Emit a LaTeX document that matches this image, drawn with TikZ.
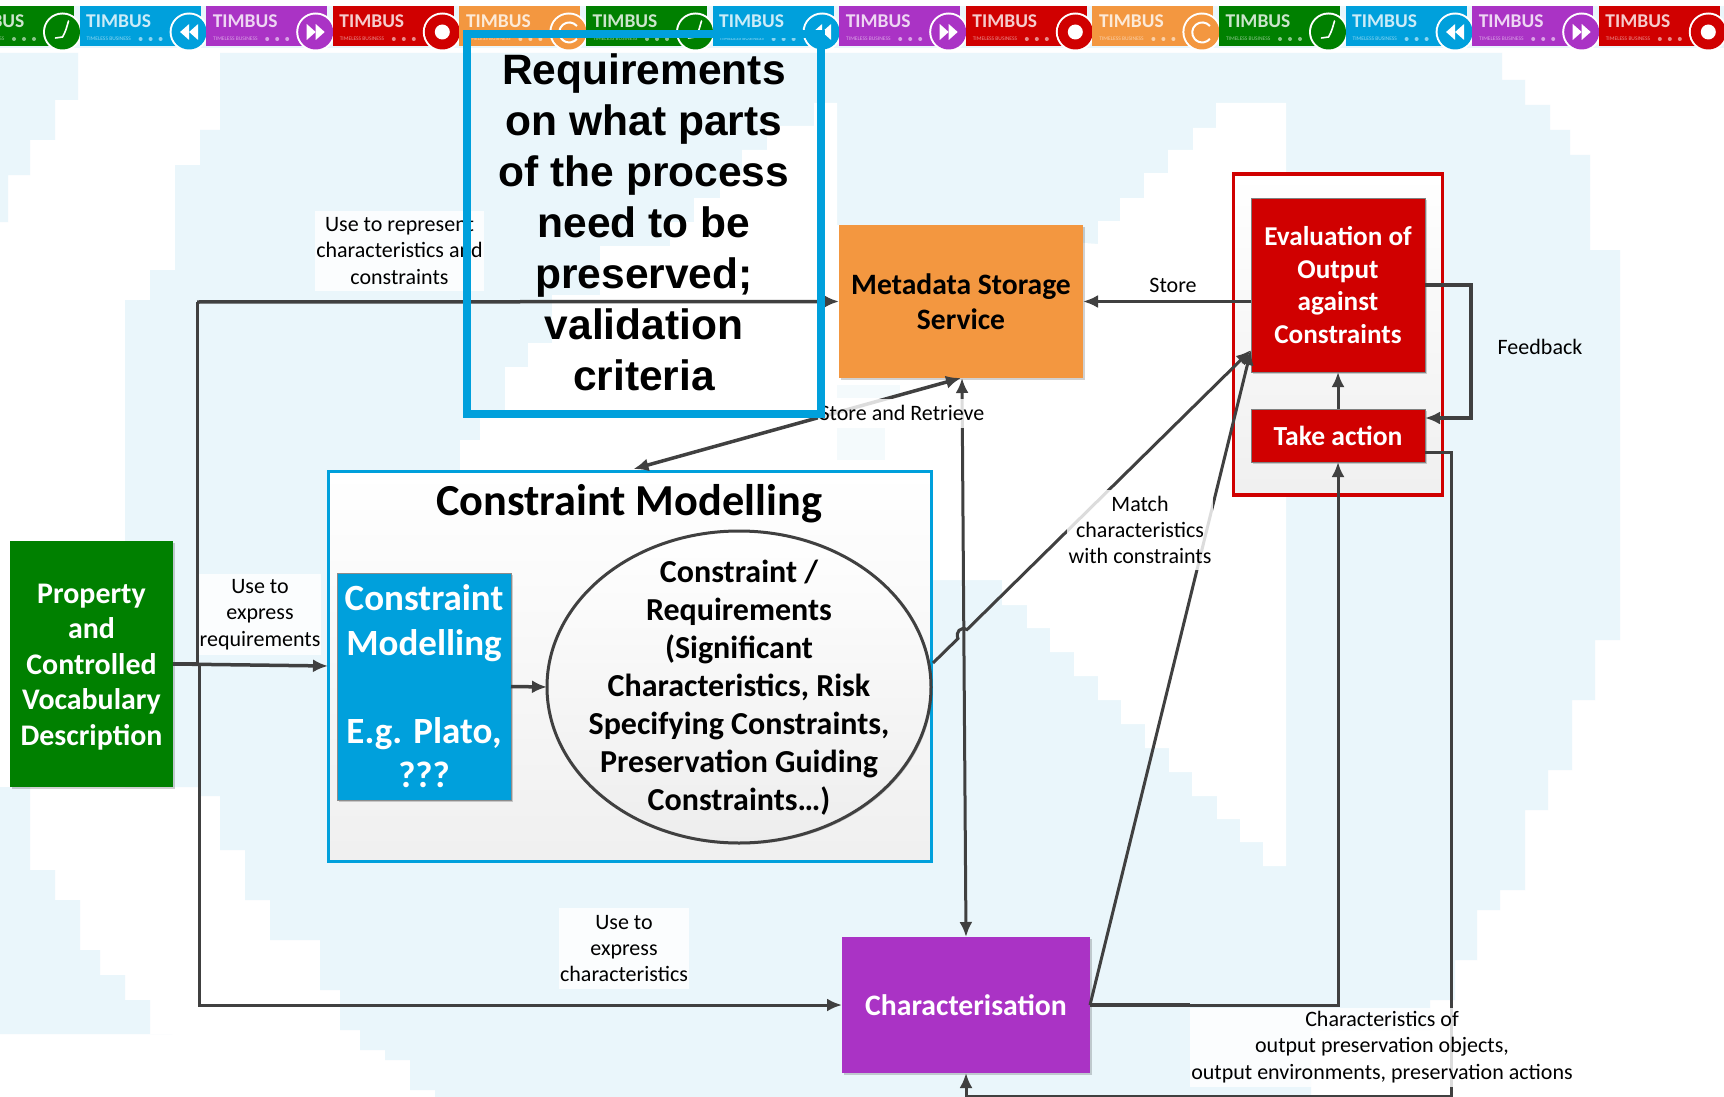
\documentclass[tikz,border=0pt]{standalone}
\usepackage{fontspec}
\setmainfont{Carlito}
\newfontfamily\reqfont{Liberation Sans}
\usetikzlibrary{arrows.meta,calc,shadows,shapes.geometric}
\definecolor{bgblue}{HTML}{EAF6FB}
\definecolor{tgreen}{HTML}{008000}
\definecolor{tblue}{HTML}{00A0DC}
\definecolor{tpurple}{HTML}{AA33C5}
\definecolor{tred}{HTML}{D00000}
\definecolor{torange}{HTML}{F39740}
\definecolor{linegray}{HTML}{404040}
\newcommand{\fsz}[2]{\fontsize{#1}{#2}\selectfont}
\newcommand{\iconclock}{\draw[white,line width=1.6pt,line cap=round] (101,38) -- (108,37) .. controls (111,32) and (112,28) .. (114,21);}
\newcommand{\iconback}{\fill[white] (99,32) -- (108,24) -- (108,40) -- cycle; \fill[white] (108,32) -- (117,24) -- (117,40) -- cycle;}
\newcommand{\iconfwd}{\fill[white] (117,32) -- (108,24) -- (108,40) -- cycle; \fill[white] (108,32) -- (99,24) -- (99,40) -- cycle;}
\newcommand{\iconrec}{\fill[white] (108,32) circle[radius=7.5];}
\newcommand{\iconredo}{\draw[white,line width=2pt] (116,26) arc[start angle=-40,end angle=-320,radius=10];}
\tikzset{
  every node/.style={inner sep=0pt,outer sep=0pt},
  softshadow/.style={drop shadow={shadow xshift=1.5pt,shadow yshift=-1.5pt,opacity=.18,fill=black}},
  boxnode/.style={rectangle,softshadow,align=center,font=\bfseries},
  wline/.style={linegray,line width=3pt},
  fline/.style={wline,-{Latex[length=15pt,width=13pt]}},
  dline/.style={wline,{Latex[length=15pt,width=13pt]}-{Latex[length=15pt,width=13pt]}},
  labelbox/.style={rectangle,fill=white,fill opacity=.82,text opacity=1,align=center,text=black,font=\fsz{22}{26.4}},
  plainlabel/.style={align=center,text=black,font=\fsz{22}{26.4}},
}
\begin{document}
\begin{tikzpicture}[x=1pt,y=-1pt]
\useasboundingbox (0,0) rectangle (1724,1097);
\begin{scope}
\clip (0,0) rectangle (1724,1097);
% background
\fill[white] (0,0) rectangle (1724,1097);
\fill[bgblue] (0,6) rectangle (1724,48);
\fill[bgblue] (0,53) -- (78,53) |- (55,100) |- (30,140) |- (8,175) |- (0,222) -- cycle;
\fill[bgblue] (0,787) -- (30,787) |- (55,870) |- (80,900) |- (100,950) |- (125,975) |- (150,1000) |- (172,1034) -- (0,1034) -- cycle;
\fill[bgblue] (220,53) -- (1502,53) |- (1525,80) |- (1550,105) |- (1570,130) |- (1590,155) |- (1620,250)
  -- (1620,640) -| (1595,700) -| (1572,770) -| (1548,810) -| (1525,890) -| (1500,910) -| (1477,960) -| (1455,1000) -| (1430,1030) -| (1311,1060) -- (1311,1097)
  -- (435,1097) |- (410,1090) |- (385,1060) |- (360,1050) |- (340,1030) |- (320,990) |- (270,940) |- (245,900) |- (220,850) |- (198,796)
  |- (173,787) -- (125,787) -- (125,300) -| (150,270) -| (175,165) -| (200,130) -| (220,80) -- cycle;
\fill[white] (837,103) -- (837,225) -- (1098,244) |- (1120,221) |- (1144,198) |- (1168,173) |- (1193,150) |- (1216,128) |- (1237,103) -- (1286,103)
  -- (1286,866) -- (1263,866) |- (1240,842) |- (1217,819) |- (1192,796) |- (1169,772) |- (1145,748) |- (1121,724) |- (1098,700) |- (1074,676) |- (1050,652) |- (1027,628) |- (1002,605) |- (960,580) -- (460,580)
  -- (460,471) |- (480,440) |- (505,416) |- (505,391) |- (528,367) |- (552,343) |- (600,295) |- (670,246) |- (694,222) |- (720,198) |- (742,174) |- (767,150) |- (814,126) |- (837,103) -- cycle;
\fill[bgblue,opacity=.5] (837,385) rectangle (900,398);
\fill[bgblue,opacity=.5] (837,428) rectangle (885,460);
% banner
\foreach \k/\c/\ic in {0/tgreen/iconclock,1/tblue/iconback,2/tpurple/iconfwd,3/tred/iconrec,4/torange/iconredo,5/tgreen/iconclock,6/tblue/iconback,7/tpurple/iconfwd,8/tred/iconrec,9/torange/iconredo,10/tgreen/iconclock,11/tblue/iconback,12/tpurple/iconfwd,13/tred/iconrec}{
  \pgfmathsetmacro{\xk}{-47+126.6*\k}
  \begin{scope}[shift={(\xk,0)}]
    \fill[\c] (0,6) rectangle (121,46);
    \begin{scope}[shift={(1.5,0)}]
    \fill[white] (108,32) circle[radius=19.5];
    \fill[\c] (108,32) circle[radius=17.5];
    \csname\ic\endcsname
    \end{scope}
    \node[text=white,opacity=.8,font=\bfseries\fsz{19.5}{20}] (tile\k) at (39,21) {TIMBUS};
    \node[text=white,opacity=.55,font=\fsz{5.5}{6},anchor=west] (tilesub\k) at (7,39) {TIMELESS BUSINESS};
    \foreach \d in {61,71,81}{\fill[white,opacity=.55] (\d,39) circle[radius=2];}
  \end{scope}
}
\end{scope}

% nodes
\node[rectangle,draw=tblue,line width=3pt,top color=white,bottom color=black!6,minimum width=603pt,minimum height=390pt,softshadow] (cm) at (629.5,666) {};
\node[font=\bfseries\fsz{44.3}{46},text=black] (cmtitle) at (629,504) {Constraint Modelling};
\node[boxnode,fill=tblue,draw=black!45,line width=.7pt,text=white,minimum width=174pt,minimum height=227pt,font=\bfseries\fsz{37}{44.3}] (inner) at (424,686.5) {Constraint\\Modelling\\[44.3pt]E.g. Plato,\\???};
\node[ellipse,draw=linegray,line width=3pt,top color=white,bottom color=black!7,minimum width=384pt,minimum height=312pt,softshadow] (req) at (739,687) {};
\node[align=center,text=black,font=\bfseries\fsz{32}{38}] (reqtext) at (739,688) {Constraint /\\Requirements\\(Significant\\Characteristics, Risk\\Specifying Constraints,\\Preservation Guiding\\Constraints…)};
\node[boxnode,fill=tgreen,minimum width=163pt,minimum height=246pt] (prop) at (91.5,664) {};
\node[align=center,text=white,font=\bfseries\fsz{29.9}{35.4}] (proptext) at (91.5,667) {Property\\and\\Controlled\\Vocabulary\\Description};
\node[boxnode,fill=torange,text=black,minimum width=244pt,minimum height=153pt,font=\bfseries\fsz{29.6}{35}] (meta) at (961,301.5) {Metadata Storage\\Service};
\node[boxnode,fill=tpurple,text=white,minimum width=248pt,minimum height=136pt,font=\bfseries\fsz{29.7}{35}] (chara) at (966,1005) {Characterisation};
\node[rectangle,draw=tred,line width=3.5pt,top color=white,bottom color=black!6,minimum width=209pt,minimum height=321pt,softshadow] (redframe) at (1338,334.5) {};
\node[boxnode,fill=tred,draw=black!50,line width=.7pt,text=white,minimum width=174pt,minimum height=174pt,font=\bfseries\fsz{27.2}{32.5}] (eval) at (1338,285) {Evaluation of\\Output\\against\\Constraints};
\node[boxnode,fill=tred,draw=black!50,line width=.7pt,text=white,minimum width=174pt,minimum height=53pt,font=\bfseries\fsz{27.6}{32.5}] (take) at (1338,435.5) {Take action};

% connectors
\coordinate (cornerA) at (197,302);
\coordinate (cornerB) at (199,1005);
\coordinate (matchstart) at (933,663);
\coordinate (matchend) at ($(eval.south west)+(0,-22)$);
\coordinate (fbin) at ($(take.east)+(0,-17.5)$);
\coordinate (outstart) at ($(take.east)+(0,16.5)$);
\coordinate (fbx) at (1471,0);
\coordinate (outx) at (1451,1096);

\draw[wline,line width=4.5pt] (prop.east) -- (199,664);
\draw[fline,line width=3.5pt] (prop.east) -- (cm.west);
\draw[wline] (197,664) -- (cornerA);
\draw[fline,line width=3.5pt] (cornerA) -- (meta.west);
\draw[fline] (199,664) -- (cornerB) -- (chara.west);
\draw[fline,line width=3.5pt] (inner.east) -- (req.west);
\draw[fline,line width=3.5pt] (eval.west |- meta.east) -- (meta.east);
\draw[dline,line width=3.5pt] ($(cm.north)+(4,-2)$) -- (meta.south);
\draw[dline] ($(meta.south)+(1,0)$) -- (chara.north);
\draw[fline] (matchstart) -- (958,638.5) .. controls (955,632) and (961,626) .. (967,629.6) -- (matchend);
\draw[fline] (chara.east) -- (matchend);
\draw[wline,line width=4pt] (chara.east) -- (1190,1005);
\draw[fline] (chara.east) -| (take.south);
\draw[fline] (take.north) -- (eval.south);
\draw[fline,line width=3.5pt] (eval.east) -| (fbx |- fbin) -- (fbin);
\draw[fline] (outstart) -| (outx) -| (chara.south);

% labels
\node[labelbox,minimum width=169pt,minimum height=80pt] (lab1) at (399.5,251) {Use to represent\\characteristics and\\constraints};
\node[labelbox,minimum width=122pt,minimum height=81pt] (lab2) at (260,614.5) {Use to\\express\\requirements};
\node[labelbox,minimum width=130pt,minimum height=81pt] (lab3) at (624,948.5) {Use to\\express\\characteristics};
\node[labelbox,minimum width=146pt,minimum height=80pt] (lab4) at (1140,530) {Match\\characteristics\\with constraints};
\node[labelbox,minimum width=384pt,minimum height=79pt] (lab5) at (1382,1047) {Characteristics of\\output preservation objects,\\output environments, preservation actions};
\node[labelbox,minimum width=168pt,minimum height=29pt] (lab6) at (902,413) {Store and Retrieve};
\node[plainlabel] (lab7) at (1173,285) {Store};
\node[plainlabel] (lab8) at (1540,347) {Feedback};

% callout
\node[rectangle,draw=tblue,line width=8pt,minimum width=354pt,minimum height=380pt] (callout) at (644,224) {};
\node[align=center,text=black,font=\reqfont\bfseries\fsz{42.5}{51}] (callouttext) at (644,222) {Requirements\\on what parts\\of the process\\need to be\\preserved;\\validation\\criteria};
\end{tikzpicture}
\end{document}
